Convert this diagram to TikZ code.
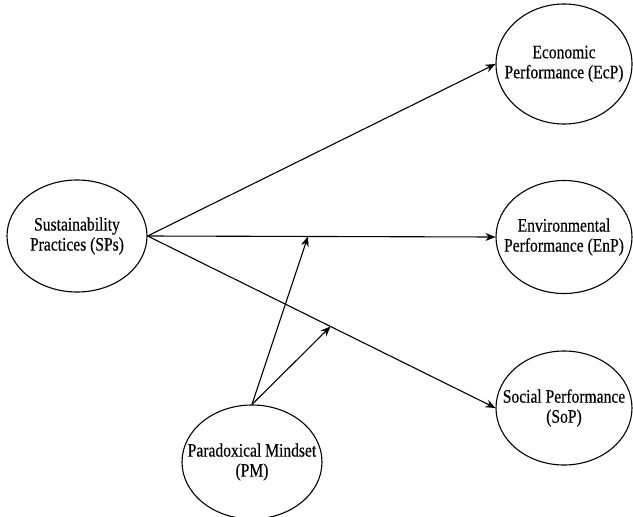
\documentclass[tikz,border=0pt]{standalone}
\usepackage{fontspec}
\newfontfamily\lblfont[FakeStretch=0.82,FakeBold=0.4]{Liberation Serif}
\usetikzlibrary{shapes.geometric,arrows.meta,calc}
\tikzset{
  construct/.style={ellipse, draw, line width=1.1pt, inner sep=0pt},
  lbl/.style={align=center, inner sep=0pt, font=\lblfont\fontsize{19}{20}\selectfont},
  path/.style={line width=1.1pt, -{Stealth[length=10pt,width=8pt]}}
}
\begin{document}
\begin{tikzpicture}[x=1pt,y=-1pt]
\useasboundingbox (0,0) rectangle (633,517);
\node[construct, minimum width=140pt, minimum height=112pt, label={[lbl]center:Sustainability\\Practices (SPs)}] (SP) at (77,236) {};
\node[construct, minimum width=136pt, minimum height=120pt, label={[lbl]center:Economic\\Performance (EcP)}] (EcP) at (564,64) {};
\node[construct, minimum width=136pt, minimum height=113pt, label={[lbl]center:Environmental\\Performance (EnP)}] (EnP) at (564,237) {};
\node[construct, minimum width=136pt, minimum height=114pt, label={[lbl]center:Social Performance\\(SoP)}] (SoP) at (564,408) {};
\node[construct, minimum width=140pt, minimum height=114pt, label={[lbl]center:Paradoxical Mindset\\(PM)}] (PM) at (252,462) {};
\draw[path] (SP.east) -- (EcP.west);
\draw[path] (SP.east) -- (EnP.west);
\draw[path] (SP.east) -- (SoP.west);
\coordinate (m1) at ($(SP.east)!0.461!(EnP.west)$);
\coordinate (m2) at ($(SP.east)!0.526!(SoP.west)$);
\draw[path] (PM.north) -- (m1);
\draw[path] (PM.north) -- (m2);
\end{tikzpicture}
\end{document}
